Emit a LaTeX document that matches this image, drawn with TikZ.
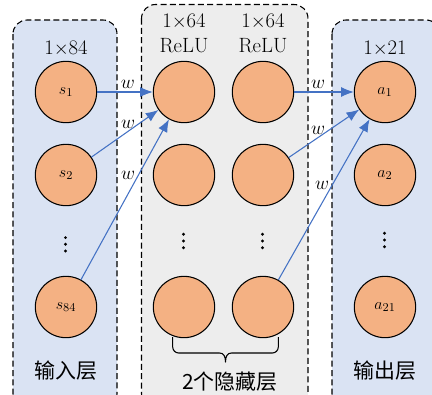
\documentclass[tikz,border=0pt]{standalone}
\usepackage{fontspec}
\newfontfamily\cjk{Noto Sans CJK SC}
\usetikzlibrary{arrows.meta}
\definecolor{nodeor}{HTML}{F4B183}
\definecolor{boxblue}{HTML}{DAE3F3}
\definecolor{boxgray}{HTML}{EDEDED}
\definecolor{arrblue}{HTML}{4472C4}
\tikzset{
  neuron/.style={circle, draw=black, line width=0.8pt, fill=nodeor, minimum size=46pt, inner sep=0pt, font=\fontsize{13}{15}\selectfont},
  layerbox/.style={draw=black, dash pattern=on 4.5pt off 2.5pt, line width=0.8pt, rounded corners=10.5pt},
  arr/.style={draw=arrblue, line width=0.8pt, -{Latex[length=9.5pt,width=7.5pt]}},
  wl/.style={font=\fontsize{14}{16}\selectfont, inner sep=2pt},
  toplabel/.style={font=\fontsize{15.5}{18}\selectfont, anchor=base, inner sep=0pt},
  cjklabel/.style={font=\fontsize{15.7}{18}\selectfont\cjk, inner sep=0pt},
  vdot/.style={fill=black}
}
\newcommand{\myvdots}[2]{%
  \fill[vdot] (#1,#2-6.7) circle[radius=1.6];
  \fill[vdot] (#1,#2) circle[radius=1.6];
  \fill[vdot] (#1,#2+6.7) circle[radius=1.6];}
\begin{document}
\begin{tikzpicture}[x=0.75pt,y=-0.75pt]
\useasboundingbox (0,0) rectangle (432,394);
\begin{scope}
\clip (0,0) rectangle (432,394);
\draw[layerbox, fill=boxblue] (13,20) rectangle (117,408);
\draw[layerbox, fill=boxgray] (141.5,4.5) rectangle (308,408);
\draw[layerbox, fill=boxblue] (332,20) rectangle (440,408);
\end{scope}

% labels
\node[toplabel] (t1) at (66,54.5) {1$\times$84};
\node[toplabel] (t2) at (184,27) {1$\times$64};
\node[toplabel] (t3) at (184,52) {ReLU};
\node[toplabel] (t4) at (263,27) {1$\times$64};
\node[toplabel] (t5) at (263,52) {ReLU};
\node[toplabel] (t6) at (385,54.5) {1$\times$21};

% input layer
\node[neuron] (s1) at (66,92) {$s_{1}$};
\node[neuron] (s2) at (66,175) {$s_{2}$};
\myvdots{65.5}{244.3}
\node[neuron] (s84) at (66,307) {$s_{84}$};

% hidden layers
\node[neuron] (h11) at (184,92) {};
\node[neuron] (h12) at (184,175) {};
\myvdots{183.5}{241}
\node[neuron] (h14) at (184,307) {};
\node[neuron] (h21) at (263,92) {};
\node[neuron] (h22) at (263,175) {};
\myvdots{262.5}{241}
\node[neuron] (h24) at (263,307) {};

% output layer
\node[neuron] (a1) at (385,92) {$a_{1}$};
\node[neuron] (a2) at (385,175) {$a_{2}$};
\myvdots{384.5}{240}
\node[neuron] (a21) at (385,307) {$a_{21}$};

% connections
\draw[arr] (s1) -- node[wl, pos=0.55, above] {$w$} (h11);
\draw[arr] (s2) -- node[wl, pos=0.545, above] {$w$} (h11);
\draw[arr] (s84) -- node[wl, pos=0.65, left] {$w$} (h11);
\draw[arr] (h21) -- node[wl, pos=0.4, above] {$w$} (a1);
\draw[arr] (h22) -- node[wl, pos=0.415, above] {$w$} (a1);
\draw[arr] (h24) -- node[wl, pos=0.59, left] {$w$} (a1);

% brace
\draw[line width=0.8pt, line join=round] (172.7,337) -- (172.7,347) arc[start angle=180, end angle=90, radius=6] -- (219.5,353) .. controls (223.5,353) and (225.5,356) .. (225.5,362) .. controls (225.5,356) and (227.5,353) .. (231.5,353) -- (272.3,353) arc[start angle=90, end angle=0, radius=6] -- (278.3,337);

% bottom labels
\node[cjklabel] (in) at (66,371) {输入层};
\node[cjklabel] (hid) at (230,381.5) {2个隐藏层};
\node[cjklabel] (out) at (385,370.5) {输出层};
\end{tikzpicture}
\end{document}
